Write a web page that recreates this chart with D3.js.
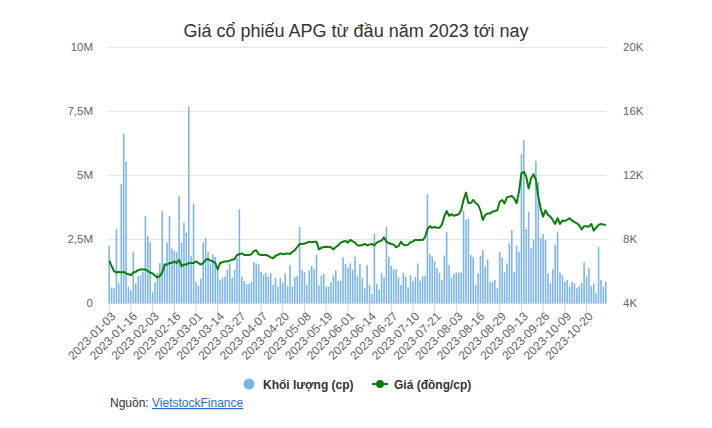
<!DOCTYPE html>
<html><head><meta charset="utf-8">
<script src="https://cdn.jsdelivr.net/npm/d3@7"></script>
<style>body{margin:0;background:#fff;} svg{display:block;font-family:"Liberation Sans",Arial,sans-serif;}</style>
</head><body><svg id="c" width="712" height="428"></svg>
<script>
const dates = [
"2023-01-03","2023-01-04","2023-01-05","2023-01-06","2023-01-09","2023-01-10","2023-01-11","2023-01-12","2023-01-13","2023-01-16",
"2023-01-17","2023-01-18","2023-01-19","2023-01-27","2023-01-30","2023-01-31","2023-02-01","2023-02-02","2023-02-03","2023-02-06",
"2023-02-07","2023-02-08","2023-02-09","2023-02-10","2023-02-13","2023-02-14","2023-02-15","2023-02-16","2023-02-17","2023-02-20",
"2023-02-21","2023-02-22","2023-02-23","2023-02-24","2023-02-27","2023-02-28","2023-03-01","2023-03-02","2023-03-03","2023-03-06",
"2023-03-07","2023-03-08","2023-03-09","2023-03-10","2023-03-13","2023-03-14","2023-03-15","2023-03-16","2023-03-17","2023-03-20",
"2023-03-21","2023-03-22","2023-03-23","2023-03-24","2023-03-27","2023-03-28","2023-03-29","2023-03-30","2023-03-31","2023-04-03",
"2023-04-04","2023-04-05","2023-04-06","2023-04-07","2023-04-10","2023-04-11","2023-04-12","2023-04-13","2023-04-14","2023-04-17",
"2023-04-18","2023-04-19","2023-04-20","2023-04-21","2023-04-24","2023-04-25","2023-04-26","2023-04-27","2023-04-28","2023-05-04",
"2023-05-05","2023-05-08","2023-05-09","2023-05-10","2023-05-11","2023-05-12","2023-05-15","2023-05-16","2023-05-17","2023-05-18",
"2023-05-19","2023-05-22","2023-05-23","2023-05-24","2023-05-25","2023-05-26","2023-05-29","2023-05-30","2023-05-31","2023-06-01",
"2023-06-02","2023-06-05","2023-06-06","2023-06-07","2023-06-08","2023-06-09","2023-06-12","2023-06-13","2023-06-14","2023-06-15",
"2023-06-16","2023-06-19","2023-06-20","2023-06-21","2023-06-22","2023-06-23","2023-06-26","2023-06-27","2023-06-28","2023-06-29",
"2023-06-30","2023-07-03","2023-07-04","2023-07-05","2023-07-06","2023-07-07","2023-07-10","2023-07-11","2023-07-12","2023-07-13",
"2023-07-14","2023-07-17","2023-07-18","2023-07-19","2023-07-20","2023-07-21","2023-07-24","2023-07-25","2023-07-26","2023-07-27",
"2023-07-28","2023-07-31","2023-08-01","2023-08-02","2023-08-03","2023-08-04","2023-08-07","2023-08-08","2023-08-09","2023-08-10",
"2023-08-11","2023-08-14","2023-08-15","2023-08-16","2023-08-17","2023-08-18","2023-08-21","2023-08-22","2023-08-23","2023-08-24",
"2023-08-25","2023-08-28","2023-08-29","2023-08-30","2023-08-31","2023-09-05","2023-09-06","2023-09-07","2023-09-08","2023-09-11",
"2023-09-12","2023-09-13","2023-09-14","2023-09-15","2023-09-18","2023-09-19","2023-09-20","2023-09-21","2023-09-22","2023-09-25",
"2023-09-26","2023-09-27","2023-09-28","2023-09-29","2023-10-02","2023-10-03","2023-10-04","2023-10-05","2023-10-06","2023-10-09",
"2023-10-10","2023-10-11","2023-10-12","2023-10-13","2023-10-16","2023-10-17","2023-10-18","2023-10-19","2023-10-20","2023-10-23",
"2023-10-24","2023-10-25","2023-10-26","2023-10-27","2023-10-30","2023-10-31","2023-11-01"];

// Khối lượng (triệu cp)
const volume = [
2.23,0.61,0.57,2.9,0.77,4.65,6.61,5.52,0.64,0.48,
1.99,0.77,1.05,1.09,1.22,3.4,2.63,2.38,0.44,0.81,
1.18,1.56,3.59,1.55,2.36,3.4,2.12,2.04,1.99,4.18,
2.36,3.14,2.75,7.67,1.83,3.89,0.83,0.68,0.95,2.36,
2.54,2.0,1.55,1.9,1.8,1.42,0.9,0.99,1.03,1.29,
1.55,0.99,1.29,1.74,3.67,1.03,0.86,0.74,0.74,0.82,
1.6,1.55,1.51,1.22,1.09,1.18,1.03,1.16,0.7,0.98,
0.64,0.98,0.79,1.16,0.66,1.48,0.64,1.0,1.06,2.97,
1.29,1.2,0.73,1.29,1.45,1.32,1.88,0.7,1.06,1.13,
0.64,0.64,0.81,1.08,1.27,0.86,0.87,1.78,1.52,1.39,
1.55,1.29,1.81,1.05,1.52,0.96,0.57,1.48,0.7,0.35,
2.72,0.74,0.53,1.18,1.0,2.97,1.81,1.45,1.32,1.32,
1.0,0.7,1.18,1.03,0.61,1.09,0.87,1.03,1.55,0.87,
1.05,1.05,4.25,1.91,1.81,1.61,1.35,1.18,0.9,1.86,
2.77,1.48,1.0,1.15,1.2,1.18,1.2,3.6,3.25,3.3,
1.87,1.8,0.7,1.16,1.84,2.07,1.42,1.71,0.81,0.83,
0.9,0.57,2.0,1.78,1.2,1.55,2.33,2.85,1.22,2.24,
2.0,5.82,6.37,2.89,3.57,2.14,2.49,5.55,4.71,2.53,
2.7,2.46,1.16,0.79,1.32,2.27,2.79,1.18,1.08,0.83,
0.9,0.64,0.83,0.77,0.57,0.66,0.79,1.59,1.03,1.36,
0.66,0.77,0.38,2.2,0.9,0.64,0.83];

// Giá (nghìn đồng/cp)
const price = [
6.65,6.3,6.0,5.9,5.95,5.9,5.95,5.85,5.8,5.75,
5.9,5.95,6.05,6.1,6.1,6.1,6.0,5.9,5.85,5.7,
5.6,5.7,5.9,6.4,6.4,6.5,6.5,6.6,6.5,6.7,
6.3,6.4,6.4,6.5,6.5,6.5,6.6,6.5,6.4,6.5,
6.7,6.75,6.65,6.6,6.5,6.1,6.5,6.55,6.6,6.6,
6.65,6.7,6.75,7.0,7.05,7.1,7.0,7.0,7.0,7.05,
7.25,7.3,7.05,7.0,7.0,7.0,6.95,6.85,6.8,6.95,
7.0,7.1,7.05,7.08,7.1,7.06,7.2,7.3,7.5,7.69,
7.69,7.72,7.77,7.83,7.8,7.83,7.83,7.35,7.45,7.5,
7.52,7.5,7.48,7.35,7.5,7.6,7.77,7.83,7.88,7.77,
7.94,7.85,7.77,7.6,7.6,7.62,7.7,7.6,7.65,7.69,
7.6,7.77,7.85,7.9,8.1,7.83,7.75,7.69,7.65,7.48,
7.55,7.83,7.65,7.6,7.65,7.8,7.85,7.94,7.94,7.94,
7.94,8.1,8.6,8.8,8.7,8.75,8.7,8.7,8.9,9.4,
9.75,9.45,9.55,9.45,9.5,9.55,9.8,10.45,10.9,10.25,
10.25,10.44,10.25,10.13,9.8,9.19,9.5,9.6,9.6,9.7,
9.75,9.8,10.33,10.44,10.23,10.6,10.65,10.69,10.54,10.23,
10.96,12.1,12.2,11.9,11.15,11.8,12.05,11.7,10.65,9.9,
9.4,9.8,9.5,9.4,9.19,8.94,9.3,8.94,9.15,9.13,
9.2,9.3,9.15,9.05,8.98,8.85,8.6,8.8,8.8,8.77,
8.94,8.52,8.7,8.88,8.94,8.9,8.88];

const volTicks = [0, 2.5, 5, 7.5, 10];
const volTickLabels = ["0", "2,5M", "5M", "7,5M", "10M"];
const priceTicks = [4, 8, 12, 16, 20];
const priceTickLabels = ["4K", "8K", "12K", "16K", "20K"];
const xTickLabels = ["2023-01-03","2023-01-16","2023-02-03","2023-02-16","2023-03-01","2023-03-14","2023-03-27","2023-04-07","2023-04-20","2023-05-08","2023-05-19","2023-06-01","2023-06-14","2023-06-27","2023-07-10","2023-07-21","2023-08-03","2023-08-16","2023-08-29","2023-09-13","2023-09-26","2023-10-09","2023-10-20"];
const seriesNames = ["Khối lượng (cp)", "Giá (đồng/cp)"];
const titleText = "Giá cổ phiếu APG từ đầu năm 2023 tới nay";

const svg = d3.select("#c");
const L = 108, R = 607, T = 47, B = 303;
const x = d3.scaleBand().domain(dates).range([L, R]).paddingInner(0.35).paddingOuter(0.175);
const yV = d3.scaleLinear().domain([0, 10]).range([B, T]);
const yP = d3.scaleLinear().domain([4, 20]).range([B, T]);
const step = x.step();

// title
svg.append("text").attr("x", 356).attr("y", 37).attr("text-anchor", "middle")
  .attr("font-size", 18).attr("fill", "#333").text(titleText);

// grid
svg.append("g").attr("transform", `translate(${L},0)`)
  .call(d3.axisLeft(yV).tickValues(volTicks).tickSize(-(R - L)).tickFormat(""))
  .call(g => g.select(".domain").remove())
  .call(g => g.selectAll("line").attr("stroke", "#e6e6e6"));

// left axis labels
svg.append("g").attr("transform", `translate(${L},0)`)
  .call(d3.axisLeft(yV).tickValues(volTicks).tickSize(0).tickPadding(15).tickFormat((d, i) => volTickLabels[i]))
  .call(g => g.select(".domain").remove())
  .call(g => g.selectAll("text").attr("fill", "#666").attr("font-size", 11.5).attr("font-family", "Liberation Sans, Arial, sans-serif"));

// right axis labels
svg.append("g").attr("transform", `translate(${R},0)`)
  .call(d3.axisRight(yP).tickValues(priceTicks).tickSize(0).tickPadding(16).tickFormat((d, i) => priceTickLabels[i]))
  .call(g => g.select(".domain").remove())
  .call(g => g.selectAll("text").attr("fill", "#666").attr("font-size", 11.5).attr("font-family", "Liberation Sans, Arial, sans-serif"));

// bars
svg.append("g").selectAll("rect").data(volume).join("rect")
  .attr("x", (d, i) => x(dates[i]))
  .attr("width", x.bandwidth())
  .attr("y", d => yV(d))
  .attr("height", d => B - yV(d))
  .attr("fill", "#7cb5ec");

// x axis
const xa = svg.append("g").attr("transform", `translate(0,${B})`)
  .call(d3.axisBottom(x).tickValues(xTickLabels).tickSize(9).tickSizeOuter(0).offset(-step / 2 + 0.5))
  .call(g => g.select(".domain").attr("stroke", "#ccd6eb").attr("d", `M${L},0.5H${R}`))
  .call(g => g.selectAll(".tick line").attr("stroke", "#ccd6eb"));
xa.selectAll(".tick text")
  .attr("fill", "#666").attr("font-size", 12).attr("font-family", "Liberation Sans, Arial, sans-serif")
  .attr("text-anchor", "end").attr("x", 0).attr("y", 0).attr("dy", "0.35em")
  .attr("transform", `translate(${step / 2 + 3},11) rotate(-45)`);

// price line
svg.append("path").datum(price)
  .attr("fill", "none").attr("stroke", "#0a800a").attr("stroke-width", 2).attr("stroke-linejoin", "round")
  .attr("d", d3.line().x((d, i) => x(dates[i]) + x.bandwidth() / 2).y(d => yP(d)));

// legend
const lg = svg.append("g");
lg.append("circle").attr("cx", 249).attr("cy", 384).attr("r", 5.5).attr("fill", "#7cb5ec");
lg.append("text").attr("x", 263).attr("y", 388.5).attr("font-size", 12).attr("font-weight", "bold").attr("fill", "#333").text(seriesNames[0]);
lg.append("line").attr("x1", 372).attr("x2", 388).attr("y1", 384).attr("y2", 384).attr("stroke", "#0a800a").attr("stroke-width", 2);
lg.append("circle").attr("cx", 380).attr("cy", 384).attr("r", 4).attr("fill", "#0a800a");
lg.append("text").attr("x", 394).attr("y", 388.5).attr("font-size", 12).attr("font-weight", "bold").attr("fill", "#333").text(seriesNames[1]);

// source
const src = svg.append("text").attr("x", 110).attr("y", 407).attr("font-size", 12).attr("fill", "#333");
src.append("tspan").text("Nguồn: ");
src.append("tspan").attr("fill", "#2b6cd4").attr("text-decoration", "underline").text("VietstockFinance");
</script>
</body></html>
